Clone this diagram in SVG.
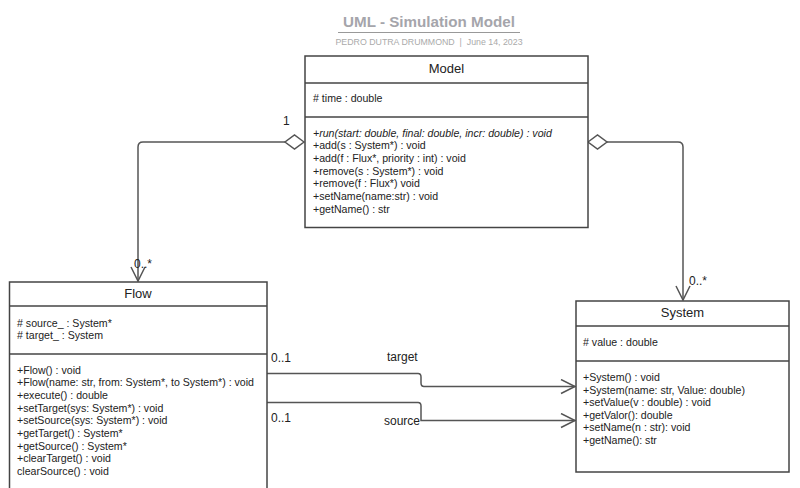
<svg xmlns="http://www.w3.org/2000/svg" width="800" height="488" viewBox="0 0 800 488">
<defs>
<style>
.box{fill:#fff;stroke:#444;stroke-width:1.5}
.sep{stroke:#444;stroke-width:1.5}
.ttl{font-family:"Liberation Sans",Arial,sans-serif;font-size:13px;fill:#222;text-anchor:middle}
.m{font-family:"Liberation Sans",Arial,sans-serif;font-size:10.6px;fill:#222}
.lbl{font-family:"Liberation Sans",Arial,sans-serif;font-size:12px;fill:#222}
.edge{fill:none;stroke:#555;stroke-width:1.5}
</style>
<marker id="open" markerWidth="20" markerHeight="20" refX="15" refY="8" orient="auto" markerUnits="userSpaceOnUse">
<path d="M1,1 L15,8 L1,15" fill="none" stroke="#555" stroke-width="1.5"/>
</marker>
</defs>
<rect width="800" height="488" fill="#fff"/>
<g id="title">
<text x="429" y="27" font-family="Liberation Sans,Arial,sans-serif" font-size="15.2" font-weight="bold" fill="#a5a5ab" text-anchor="middle">UML - Simulation Model</text>
<line x1="338" y1="32.5" x2="520" y2="32.5" stroke="#999" stroke-width="1"/>
<text x="429" y="45" font-family="Liberation Sans,Arial,sans-serif" font-size="8.8" fill="#aaa" text-anchor="middle" xml:space="preserve">PEDRO DUTRA DRUMMOND  |  June 14, 2023</text>
</g>
<g id="connectors">
<path class="edge" d="M285,142 H143 Q138,142 138,147 V281" marker-end="url(#open)"/>
<path class="edge" d="M607,142 H678 Q683,142 683,147 V300" marker-end="url(#open)"/>
<path d="M304,142 L294.5,135 L285,142 L294.5,149 Z" fill="#fff" stroke="#555" stroke-width="1.5"/>
<path d="M588,142 L597.5,135 L607,142 L597.5,149 Z" fill="#fff" stroke="#555" stroke-width="1.5"/>
<path class="edge" d="M267,373.5 H418 Q421,373.5 421,377 V383 Q421,386.5 424,386.5 H575" marker-end="url(#open)"/>
<path class="edge" d="M267,402.5 H418 Q421,402.5 421,406 V420.5 H575" marker-end="url(#open)"/>
<text class="lbl" x="283" y="125">1</text>
<text class="lbl" x="134" y="268">0..*</text>
<text class="lbl" x="530" y="123.5" font-size="11.5">1</text>
<text class="lbl" x="689" y="285">0..*</text>
<text class="lbl" x="271" y="362">0..1</text>
<text class="lbl" x="387" y="361">target</text>
<text class="lbl" x="271" y="422">0..1</text>
<text class="lbl" x="384" y="425">source</text>
</g>
<g id="Model">
<rect class="box" x="305" y="56" width="283" height="171.5"/>
<line class="sep" x1="305" y1="83" x2="588" y2="83"/>
<line class="sep" x1="305" y1="117" x2="588" y2="117"/>
<text class="ttl" x="446.5" y="73">Model</text>
<text class="m" x="313" y="102"># time : double</text>
<text class="m" x="313" y="136.5" font-style="italic">+run(start: double, final: double, incr: double) : void</text>
<text class="m" x="313" y="149">+add(s : System*) : void</text>
<text class="m" x="313" y="162">+add(f : Flux*, priority : int) : void</text>
<text class="m" x="313" y="174.5">+remove(s : System*) : void</text>
<text class="m" x="313" y="187">+remove(f : Flux*) void</text>
<text class="m" x="313" y="200">+setName(name:str) : void</text>
<text class="m" x="313" y="213">+getName() : str</text>
</g>
<g id="Flow">
<rect class="box" x="9.5" y="282" width="257.5" height="220"/>
<line class="sep" x1="9.5" y1="306" x2="267" y2="306"/>
<line class="sep" x1="9.5" y1="354" x2="267" y2="354"/>
<text class="ttl" x="138" y="298">Flow</text>
<text class="m" x="17" y="327"># source_ : System*</text>
<text class="m" x="17" y="339"># target_ : System</text>
<text class="m" x="17" y="373.5">+Flow() : void</text>
<text class="m" x="17" y="386">+Flow(name: str, from: System*, to System*) : void</text>
<text class="m" x="17" y="399">+execute() : double</text>
<text class="m" x="17" y="411.5">+setTarget(sys: System*) : void</text>
<text class="m" x="17" y="424">+setSource(sys: System*) : void</text>
<text class="m" x="17" y="437">+getTarget() : System*</text>
<text class="m" x="17" y="449.5">+getSource() : System*</text>
<text class="m" x="17" y="462">+clearTarget() : void</text>
<text class="m" x="17" y="475">clearSource() : void</text>
</g>
<g id="System">
<rect class="box" x="576" y="301" width="213" height="171"/>
<line class="sep" x1="576" y1="326" x2="789" y2="326"/>
<line class="sep" x1="576" y1="361" x2="789" y2="361"/>
<text class="ttl" x="682.5" y="317">System</text>
<text class="m" x="583" y="346"># value : double</text>
<text class="m" x="583" y="381">+System() : void</text>
<text class="m" x="583" y="393.5">+System(name: str, Value: double)</text>
<text class="m" x="583" y="406">+setValue(v : double) : void</text>
<text class="m" x="583" y="418.5">+getValor(): double</text>
<text class="m" x="583" y="431">+setName(n : str): void</text>
<text class="m" x="583" y="443.5">+getName(): str</text>
</g>
</svg>
